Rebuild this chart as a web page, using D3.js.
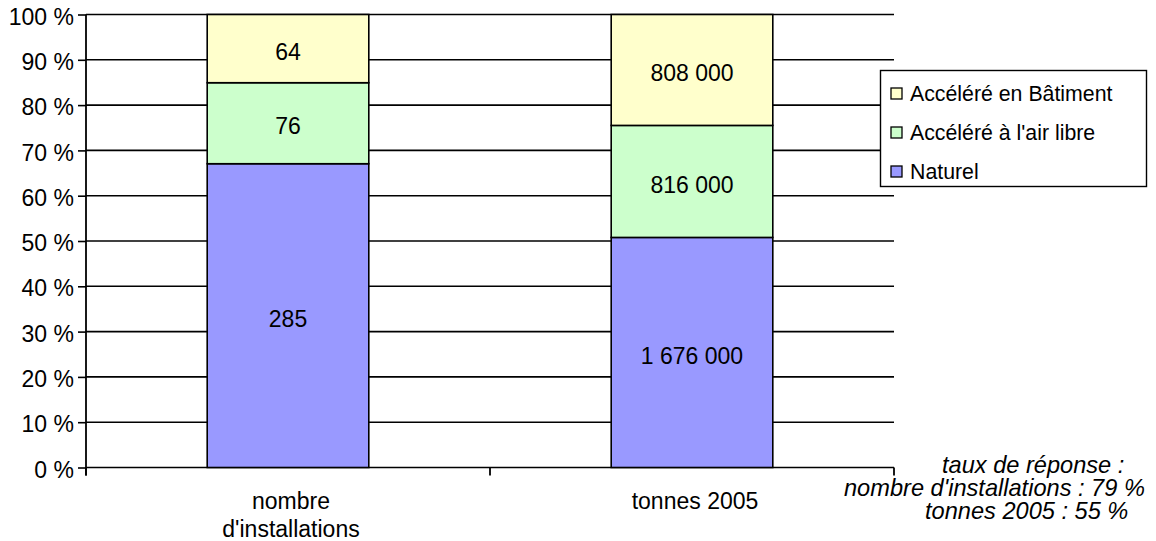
<!DOCTYPE html>
<html>
<head>
<meta charset="utf-8">
<script src="https://cdn.jsdelivr.net/npm/d3@7/dist/d3.min.js"></script>
<style>
  html, body { margin: 0; padding: 0; background: #fff; }
  svg { display: block; font-family: "Liberation Sans", Arial, sans-serif; }
</style>
</head>
<body>
<svg id="chart" width="1156" height="541"></svg>
<script>
// Categories (x axis), each with a two-line label
const categories = ["nombre d'installations", "tonnes 2005"];
const categoryLines = [["nombre", "d'installations"], ["tonnes 2005"]];

// Series, stacked bottom to top
const seriesNames = ["Naturel", "Accéléré à l'air libre", "Accéléré en Bâtiment"];
const naturel = [285, 1676000];
const aireLibre = [76, 816000];
const batiment = [64, 808000];
const seriesLabels = [
  ["285", "1 676 000"],
  ["76", "816 000"],
  ["64", "808 000"]
];
const seriesColors = ["#9999ff", "#ccffcc", "#ffffcc"];

// Y axis ticks (percent)
const yTicks = [0, 10, 20, 30, 40, 50, 60, 70, 80, 90, 100];

// Footnote lines
const noteLines = ["taux de réponse :", "nombre d'installations : 79 %", "tonnes 2005 : 55 %"];

const svg = d3.select("#chart");
const plot = { left: 86, right: 894, top: 14.5, bottom: 467.5 };

const x = d3.scaleBand().domain(categories).range([plot.left, plot.right]).padding(0);
const barW = x.bandwidth() * 0.4;
const y = d3.scaleLinear().domain([0, 100]).range([plot.bottom, plot.top]);

// Stack the series as percentage of each category total
const rows = categories.map((c, i) => {
  const vals = [naturel[i], aireLibre[i], batiment[i]];
  const total = d3.sum(vals);
  const r = { cat: c };
  seriesNames.forEach((s, k) => { r[s] = vals[k] / total * 100; });
  return r;
});
const stacked = d3.stack().keys(seriesNames)(rows);

// Horizontal gridlines
svg.append("g")
  .selectAll("line")
  .data(yTicks)
  .join("line")
  .attr("x1", plot.left).attr("x2", plot.right)
  .attr("y1", d => y(d)).attr("y2", d => y(d))
  .attr("stroke", "#000").attr("stroke-width", 1.6);

// Y axis
const yAxis = d3.axisLeft(y).tickValues(yTicks).tickSize(8).tickPadding(4)
  .tickFormat(d => d + " %");
const gy = svg.append("g").attr("transform", `translate(${plot.left},0)`).call(yAxis);
gy.select(".domain").attr("stroke", "#000").attr("stroke-width", 1.8)
  .attr("d", `M0,${plot.top}V${plot.bottom + 8}`);
gy.selectAll(".tick line").attr("stroke", "#000").attr("stroke-width", 1.6);
gy.selectAll(".tick text").attr("font-size", 23).attr("fill", "#000")
  .attr("font-family", "'Liberation Sans', Arial, sans-serif").attr("dy", "0.42em");

// X axis category boundary ticks
const boundaries = [plot.left, ...categories.map(c => x(c) + x.bandwidth())];
svg.append("g")
  .selectAll("line")
  .data(boundaries)
  .join("line")
  .attr("x1", d => d).attr("x2", d => d)
  .attr("y1", plot.bottom).attr("y2", plot.bottom + 8)
  .attr("stroke", "#000").attr("stroke-width", 1.8);

// Bars
const segG = svg.append("g");
stacked.forEach((layer, k) => {
  segG.append("g")
    .selectAll("rect")
    .data(layer)
    .join("rect")
    .attr("x", d => x(d.data.cat) + (x.bandwidth() - barW) / 2)
    .attr("width", barW)
    .attr("y", d => y(d[1]))
    .attr("height", d => y(d[0]) - y(d[1]))
    .attr("fill", seriesColors[k])
    .attr("stroke", "#000")
    .attr("stroke-width", 1.6);
});

// Value labels centred in each segment
stacked.forEach((layer, k) => {
  segG.append("g")
    .selectAll("text")
    .data(layer)
    .join("text")
    .attr("x", d => x(d.data.cat) + x.bandwidth() / 2)
    .attr("y", d => (y(d[0]) + y(d[1])) / 2 + 1.5)
    .attr("dy", "0.42em")
    .attr("text-anchor", "middle")
    .attr("font-size", 23)
    .attr("fill", "#000")
    .text((d, i) => seriesLabels[k][i]);
});

// Category labels
const catG = svg.append("g");
categories.forEach((c, i) => {
  const t = catG.append("text")
    .attr("text-anchor", "middle")
    .attr("font-size", 23)
    .attr("fill", "#000")
    .attr("transform", `translate(${x(c) + x.bandwidth() / 2 + 3},509)`);
  categoryLines[i].forEach((line, j) => {
    t.append("tspan").attr("x", 0).attr("y", j * 27.5).text(line);
  });
});

// Legend (top entry is the top of the stack)
const legend = svg.append("g").attr("transform", "translate(880.5,70.5)");
legend.append("rect")
  .attr("width", 266).attr("height", 116)
  .attr("fill", "#fff").attr("stroke", "#000").attr("stroke-width", 1.4);
const legendOrder = seriesNames.map((s, k) => k).reverse();
legendOrder.forEach((k, j) => {
  const cy = 23 + j * 39;
  legend.append("rect")
    .attr("x", 10.5).attr("y", cy - 5.5)
    .attr("width", 11).attr("height", 11)
    .attr("fill", seriesColors[k]).attr("stroke", "#000").attr("stroke-width", 1.3);
  legend.append("text")
    .attr("x", 29.5).attr("y", cy).attr("dy", "0.36em")
    .attr("font-size", 21.3).attr("fill", "#000")
    .text(seriesNames[k]);
});

// Footnote
const note = svg.append("g").attr("font-style", "italic").attr("font-size", 23.6).attr("fill", "#000");
const noteX = [942, 844, 925];
noteLines.forEach((line, j) => {
  note.append("text")
    .attr("x", noteX[j]).attr("y", 472.5 + j * 23)
    .text(line);
});
</script>
</body>
</html>
